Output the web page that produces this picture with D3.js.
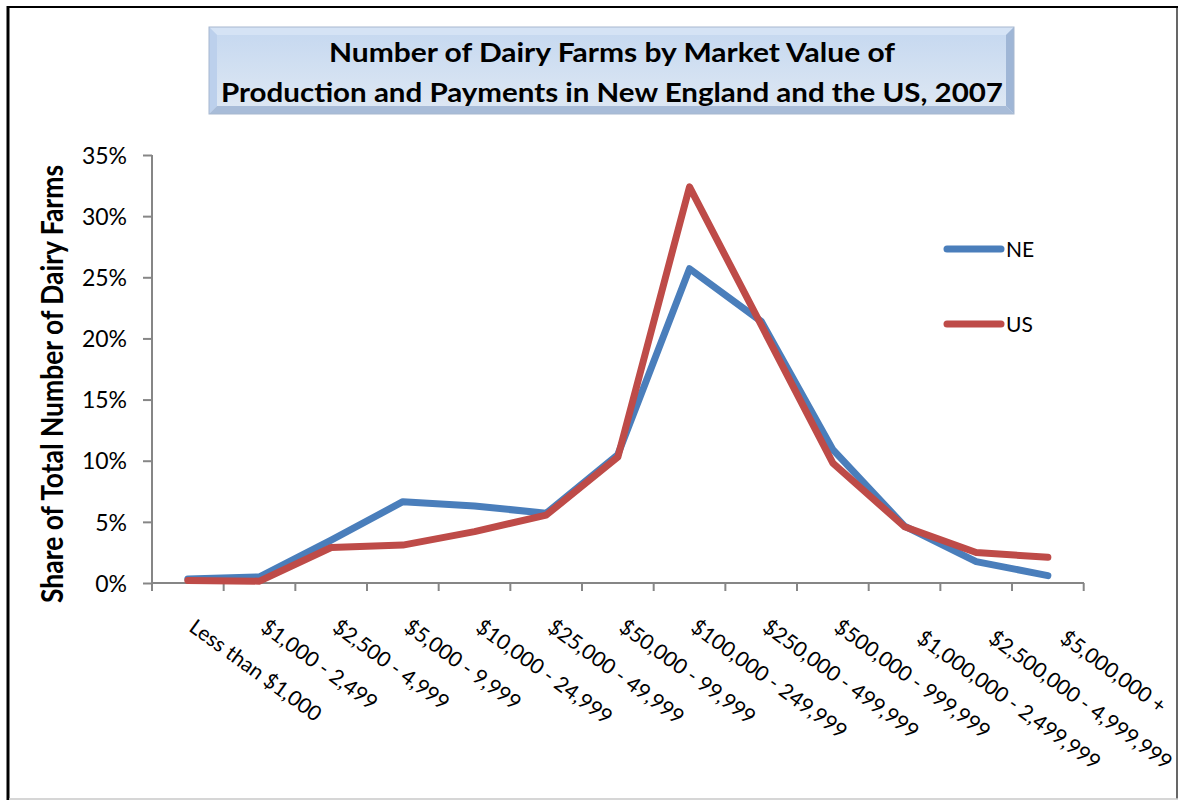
<!DOCTYPE html>
<html><head><meta charset="utf-8">
<script src="https://cdn.jsdelivr.net/npm/d3@7"></script>
<style>body{margin:0;background:#fff;} svg{display:block;}</style>
</head><body>
<script>
const categories = ["Less than $1,000","$1,000 - 2,499","$2,500 - 4,999","$5,000 - 9,999","$10,000 - 24,999","$25,000 - 49,999","$50,000 - 99,999","$100,000 - 249,999","$250,000 - 499,999","$500,000 - 999,999","$1,000,000 - 2,499,999","$2,500,000 - 4,999,999","$5,000,000 +"];
const neValues = [0.33, 0.5, 3.5, 6.65, 6.3, 5.7, 10.5, 25.7, 21.4, 10.9, 4.65, 1.75, 0.6];
const usValues = [0.2, 0.15, 2.9, 3.1, 4.2, 5.55, 10.3, 32.4, 21.1, 9.8, 4.6, 2.5, 2.1];
const yTicks = [0, 5, 10, 15, 20, 25, 30, 35];
const seriesNames = ["NE", "US"];
const seriesColors = ["#4a7ebb", "#be4b48"];
const titleLines = ["Number of Dairy Farms by Market Value of", "Production and Payments in New England and the US, 2007"];
const yLabel = "Share of Total Number of Dairy Farms";

const W = 1179, H = 800;
const svg = d3.select("body").append("svg").attr("width", W).attr("height", H);
const font = "Lato, 'Open Sans', sans-serif";

// outer border
svg.append("line").attr("x1", 8).attr("x2", 8).attr("y1", 6).attr("y2", 800).attr("stroke", "#000").attr("stroke-width", 3);
svg.append("line").attr("x1", 7).attr("x2", 1178).attr("y1", 7).attr("y2", 7).attr("stroke", "#000").attr("stroke-width", 2);
svg.append("line").attr("x1", 1177).attr("x2", 1177).attr("y1", 6).attr("y2", 799).attr("stroke", "#000").attr("stroke-width", 1.2);
svg.append("line").attr("x1", 9).attr("x2", 1178).attr("y1", 799).attr("y2", 799).attr("stroke", "#c8c8c8").attr("stroke-width", 1.5);

// title box with bevel
const defs = svg.append("defs");
const g1 = defs.append("linearGradient").attr("id", "tg").attr("x1", 0).attr("y1", 0).attr("x2", 0).attr("y2", 1);
g1.append("stop").attr("offset", "0%").attr("stop-color", "#c7d9f0");
g1.append("stop").attr("offset", "100%").attr("stop-color", "#dde7f3");
const tb = {x: 209, y: 27, w: 805, h: 87, b: 8};
const bx = tb.x, by = tb.y, bw = tb.w, bh = tb.h, b = tb.b;
svg.append("rect").attr("x", bx).attr("y", by).attr("width", bw).attr("height", bh).attr("fill", "url(#tg)");
svg.append("polygon").attr("points", `${bx},${by} ${bx+bw},${by} ${bx+bw-b},${by+b} ${bx+b},${by+b}`).attr("fill", "#d5e3f5");
svg.append("polygon").attr("points", `${bx},${by} ${bx+b},${by+b} ${bx+b},${by+bh-b} ${bx},${by+bh}`).attr("fill", "#bcd0ec");
svg.append("polygon").attr("points", `${bx+bw},${by} ${bx+bw},${by+bh} ${bx+bw-b},${by+bh-b} ${bx+bw-b},${by+b}`).attr("fill", "#9fb6d6");
svg.append("polygon").attr("points", `${bx},${by+bh} ${bx+b},${by+bh-b} ${bx+bw-b},${by+bh-b} ${bx+bw},${by+bh}`).attr("fill", "#a8bcd8");
svg.append("rect").attr("x", bx+b).attr("y", by+b).attr("width", bw-2*b).attr("height", bh-2*b).attr("fill", "url(#tg)");
svg.append("rect").attr("x", bx).attr("y", by).attr("width", bw).attr("height", bh).attr("fill", "none").attr("stroke", "#a7b8cf").attr("stroke-width", 1);

svg.append("text").attr("x", 612).attr("y", 62).attr("text-anchor", "middle")
  .attr("font-family", font).attr("font-weight", "bold").attr("font-size", 26).attr("fill", "#000")
  .attr("textLength", 566).attr("lengthAdjust", "spacingAndGlyphs").text(titleLines[0]);
svg.append("text").attr("x", 612).attr("y", 102).attr("text-anchor", "middle")
  .attr("font-family", font).attr("font-weight", "bold").attr("font-size", 26).attr("fill", "#000")
  .attr("textLength", 782).attr("lengthAdjust", "spacingAndGlyphs").text(titleLines[1]);

// scales
const x = d3.scaleBand().domain(categories).range([152, 1083.7]).paddingInner(0).paddingOuter(0);
const y = d3.scaleLinear().domain([0, 35]).range([583, 155]);

// y axis
const yAxis = d3.axisLeft(y).tickValues(yTicks).tickFormat(d => d + "%").tickSize(9).tickPadding(8);
const ya = svg.append("g").attr("transform", "translate(152,0)").call(yAxis);
ya.select(".domain").attr("stroke", "#868686").attr("stroke-width", 2).attr("d", "M0,155V583");
ya.selectAll(".tick line").attr("stroke", "#868686").attr("stroke-width", 2);
ya.selectAll(".tick text").attr("font-family", font).attr("font-size", 23).attr("fill", "#000").attr("dy", "0.36em").attr("x", -25);

// x axis
const tickPositions = categories.map(c => x(c)).concat([x(categories[categories.length-1]) + x.bandwidth()]);
const xa = svg.append("g");
xa.append("line").attr("x1", 152).attr("x2", 1084).attr("y1", 583).attr("y2", 583).attr("stroke", "#868686").attr("stroke-width", 2);
xa.selectAll("line.t").data(tickPositions).enter().append("line").attr("class", "t")
  .attr("x1", d => d).attr("x2", d => d).attr("y1", 583).attr("y2", 591).attr("stroke", "#868686").attr("stroke-width", 2);
xa.selectAll("text").data(categories).enter().append("text")
  .attr("transform", (d, i) => {
    const cx = x(d) + x.bandwidth()/2;
    const shift = i >= 10 ? 11 : 0;
    return `translate(${cx + shift},${630 + shift}) rotate(36)`;
  })
  .attr("font-family", font).attr("font-size", 21).attr("fill", "#000").attr("text-anchor", "start")
  .text(d => d);

// y label
svg.append("text").attr("transform", "translate(63,384) scale(1.25,1) rotate(-90)").attr("text-anchor", "middle")
  .attr("font-family", font).attr("font-weight", "bold").attr("font-size", 24).attr("fill", "#000")
  .attr("textLength", 438).attr("lengthAdjust", "spacingAndGlyphs").text(yLabel);

// lines
const line = d3.line().x((d, i) => x(categories[i]) + x.bandwidth()/2).y(d => y(d));
[neValues, usValues].forEach((vals, k) => {
  svg.append("path").datum(vals).attr("d", line).attr("fill", "none")
    .attr("stroke", seriesColors[k]).attr("stroke-width", 7)
    .attr("stroke-linejoin", "round").attr("stroke-linecap", "round");
});

// legend
const legY = [249, 324];
seriesNames.forEach((n, k) => {
  svg.append("line").attr("x1", 947).attr("x2", 1001).attr("y1", legY[k]).attr("y2", legY[k])
    .attr("stroke", seriesColors[k]).attr("stroke-width", 7).attr("stroke-linecap", "round");
  svg.append("text").attr("x", 1006).attr("y", legY[k]).attr("dy", "0.36em")
    .attr("font-family", font).attr("font-size", 21).attr("fill", "#000").text(n);
});
</script>
</body></html>
